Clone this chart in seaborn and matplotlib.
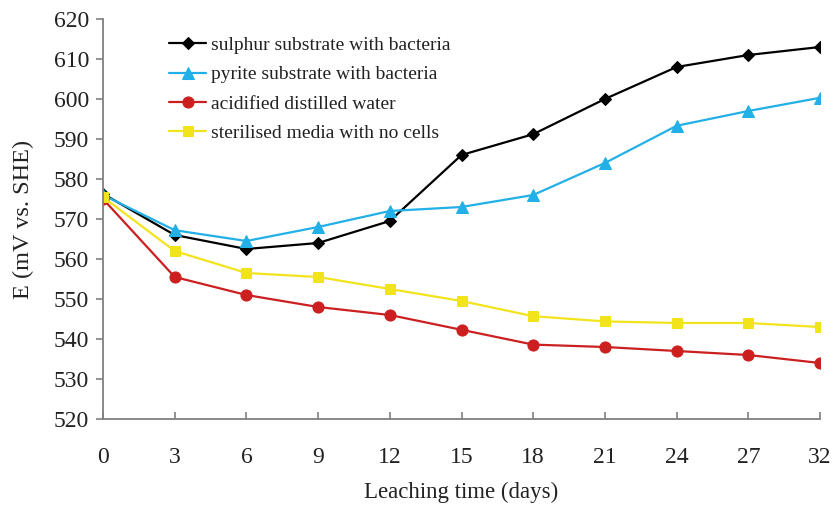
import matplotlib
matplotlib.use("Agg")
import matplotlib.pyplot as plt
import seaborn as sns
import pandas as pd

days = ["0", "3", "6", "9", "12", "15", "18", "21", "24", "27", "32"]
sulphur = [576.3, 566.0, 562.5, 564.0, 569.5, 586.0, 591.2, 600.0, 608.0, 611.0, 613.0]
pyrite = [576.0, 567.2, 564.5, 568.0, 572.0, 573.0, 576.0, 584.0, 593.3, 597.0, 600.3]
acid_water = [575.0, 555.5, 551.0, 548.0, 546.0, 542.3, 538.6, 538.0, 537.0, 536.0, 534.0]
sterile = [575.5, 562.0, 556.5, 555.5, 552.5, 549.5, 545.7, 544.4, 544.0, 544.0, 543.0]

labels = ["sulphur substrate with bacteria", "pyrite substrate with bacteria",
          "acidified distilled water", "sterilised media with no cells"]
series = [sulphur, pyrite, acid_water, sterile]
colors = ["#000000", "#22B0E6", "#CC2020", "#F2E41C"]
markers = ["D", "^", "o", "s"]
msizes = [6, 8, 8, 7.5]

sns.set_style("white")
plt.rcParams['font.family'] = ['Liberation Serif', 'DejaVu Serif']

fig = plt.figure(figsize=(8.33, 5.05), dpi=100)
ax = fig.add_axes([103/833, 1-419/505, (820-103)/833, 400/505])

idx = list(range(len(days)))
for vals, lab, c, m, ms in zip(series, labels, colors, markers, msizes):
    df = pd.DataFrame({"x": idx, "y": vals})
    sns.lineplot(data=df, x="x", y="y", ax=ax, color=c, marker=m, markersize=ms,
                 markeredgecolor=c, linewidth=1.6, label=lab)

ax.set_xlim(0, len(days) - 1)
ax.set_ylim(520, 620)
ax.set_yticks(range(520, 621, 10))
ax.set_xticks(idx)
ax.set_xticklabels(days)
for s in ["top", "right"]:
    ax.spines[s].set_visible(False)
for s in ["left", "bottom"]:
    ax.spines[s].set_color("#808080")
    ax.spines[s].set_linewidth(1.3)
ax.tick_params(axis="y", direction="out", length=5, width=1.2, color="#808080",
               labelsize=17, pad=5, left=True)
ax.tick_params(axis="x", direction="in", length=5, width=1.2, color="#808080",
               labelsize=17, pad=20, bottom=True)
for lab in ax.get_xticklabels() + ax.get_yticklabels():
    lab.set_color("#222222")
ax.set_xlabel("Leaching time (days)", fontsize=16.5, labelpad=10, color="#222222")
ax.set_ylabel("E (mV vs. SHE)", fontsize=17.5, labelpad=14, color="#222222")

leg = ax.legend(loc="upper left", bbox_to_anchor=(0.068, 1.0), frameon=False,
                fontsize=14, handlelength=1.9, handletextpad=0.25, labelspacing=0.6)
for t in leg.get_texts():
    t.set_color("#222222")

fig.savefig("out.png", dpi=100)
